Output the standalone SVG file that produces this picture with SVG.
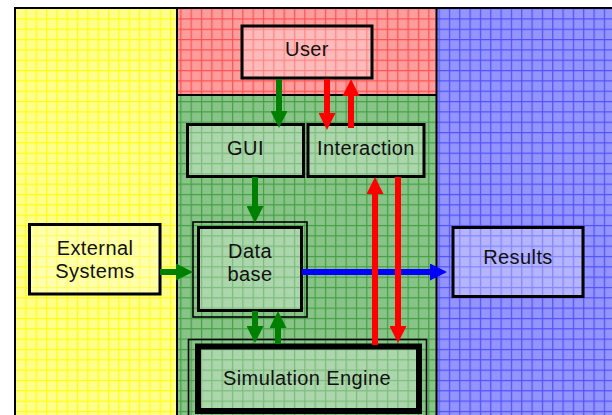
<svg xmlns="http://www.w3.org/2000/svg" width="612" height="415" viewBox="0 0 612 415">
  <style>
    .box { fill: #ffffff; fill-opacity: 0.3; stroke: #000; stroke-width: 3; }
    .thin { fill: none; stroke: #000; stroke-width: 1.6; }
    .lbl { font-family: "Liberation Sans", Arial, sans-serif; font-size: 20px; letter-spacing: 0.4px; fill: #111; text-anchor: middle; }
    .div { stroke: #000; stroke-width: 2; }
    .g { stroke: #008000; stroke-width: 6; fill: none; }
    .r { stroke: #ff0000; stroke-width: 6; fill: none; }
    .b { stroke: #0000ff; stroke-width: 6; fill: none; }
  </style>
  <defs>
    <pattern id="fillYellow" patternUnits="userSpaceOnUse" x="15" y="8" width="10.33" height="10.33">
      <rect width="10.33" height="10.33" fill="#ffff8c"/>
      <rect width="1.2" height="10.33" fill="#ffff10"/>
      <rect width="10.33" height="1.2" fill="#ffff10"/>
    </pattern>
    <pattern id="fillRed" patternUnits="userSpaceOnUse" x="15" y="8" width="10.33" height="10.33">
      <rect width="10.33" height="10.33" fill="#ff9c9c"/>
      <rect width="1.2" height="10.33" fill="#ff5252"/>
      <rect width="10.33" height="1.2" fill="#ff5252"/>
    </pattern>
    <pattern id="fillGreen" patternUnits="userSpaceOnUse" x="15" y="8" width="10.33" height="10.33">
      <rect width="10.33" height="10.33" fill="#88c488"/>
      <rect width="1.2" height="10.33" fill="#44a044"/>
      <rect width="10.33" height="1.2" fill="#44a044"/>
    </pattern>
    <pattern id="fillBlue" patternUnits="userSpaceOnUse" x="15" y="8" width="10.33" height="10.33">
      <rect width="10.33" height="10.33" fill="#9494ff"/>
      <rect width="1.2" height="10.33" fill="#5050ff"/>
      <rect width="10.33" height="1.2" fill="#5050ff"/>
    </pattern>
    <marker id="headG" markerUnits="userSpaceOnUse" markerWidth="17" markerHeight="17" refX="7" refY="8.5" orient="auto">
      <path d="M0,0 L17,8.5 L0,17 z" fill="#008000"/>
    </marker>
    <marker id="headR" markerUnits="userSpaceOnUse" markerWidth="17" markerHeight="17" refX="7" refY="8.5" orient="auto">
      <path d="M0,0 L17,8.5 L0,17 z" fill="#ff0000"/>
    </marker>
    <marker id="headB" markerUnits="userSpaceOnUse" markerWidth="17" markerHeight="17" refX="7" refY="8.5" orient="auto">
      <path d="M0,0 L17,8.5 L0,17 z" fill="#0000ff"/>
    </marker>
  </defs>

  <rect width="612" height="415" fill="#fff"/>

  <!-- swim-lane panels -->
  <g id="panels">
    <rect x="15" y="8" width="162" height="407" fill="url(#fillYellow)"/>
    <rect x="177" y="8" width="260" height="87" fill="url(#fillRed)"/>
    <rect x="177" y="95" width="260" height="320" fill="url(#fillGreen)"/>
    <rect x="437" y="8" width="175" height="407" fill="url(#fillBlue)"/>
    <line class="div" x1="15" y1="8" x2="612" y2="8" stroke="#333"/>
    <line class="div" x1="15" y1="7" x2="15" y2="415"/>
    <line class="div" x1="177" y1="7" x2="177" y2="415"/>
    <line class="div" x1="436.5" y1="7" x2="436.5" y2="415"/>
    <line class="div" x1="177" y1="95" x2="436.5" y2="95"/>
  </g>

  <g id="user">
    <rect class="box" x="242" y="26" width="130" height="52"/>
    <text class="lbl" x="307" y="56">User</text>
  </g>

  <g id="gui">
    <rect class="box" x="187.5" y="124.5" width="116" height="52"/>
    <text class="lbl" x="245.5" y="154.5">GUI</text>
  </g>

  <g id="interaction">
    <rect class="box" x="308" y="124.5" width="116" height="52"/>
    <text class="lbl" x="366" y="154.5">Interaction</text>
  </g>

  <g id="database">
    <rect class="thin" x="193" y="222" width="114" height="95"/>
    <rect class="box" x="198.5" y="227.5" width="103" height="83"/>
    <text class="lbl" x="250" y="257.5">Data</text>
    <text class="lbl" x="250" y="281">base</text>
  </g>

  <g id="external">
    <rect class="box" x="29.5" y="224.5" width="130.5" height="69.5"/>
    <text class="lbl" x="95" y="255">External</text>
    <text class="lbl" x="95" y="277.5">Systems</text>
  </g>

  <g id="results">
    <rect class="box" x="453" y="227.5" width="130" height="69"/>
    <text class="lbl" x="518" y="264">Results</text>
  </g>

  <g id="simulation">
    <rect class="thin" x="188.5" y="339.5" width="238" height="80"/>
    <rect x="198" y="346.5" width="221" height="64.5" fill="#fff" fill-opacity="0.3" stroke="#000" stroke-width="6"/>
    <text class="lbl" x="307" y="385">Simulation Engine</text>
  </g>

  <!-- connectors -->
  <g id="connectors">
    <line class="g" x1="279" y1="79" x2="279" y2="118" marker-end="url(#headG)"/>
    <line class="r" x1="327" y1="79" x2="327" y2="120" marker-end="url(#headR)"/>
    <line class="r" x1="351" y1="128" x2="351" y2="89" marker-end="url(#headR)"/>
    <line class="g" x1="255" y1="177" x2="255" y2="213" marker-end="url(#headG)"/>
    <line class="g" x1="160" y1="272" x2="183" y2="272" marker-end="url(#headG)"/>
    <line class="b" x1="302" y1="272" x2="437" y2="272" marker-end="url(#headB)"/>
    <line class="g" x1="255" y1="311" x2="255" y2="333" marker-end="url(#headG)"/>
    <line class="g" x1="278" y1="344" x2="278" y2="321" marker-end="url(#headG)"/>
    <line class="r" x1="375" y1="345" x2="375" y2="187" marker-end="url(#headR)"/>
    <line class="r" x1="398" y1="177" x2="398" y2="333" marker-end="url(#headR)"/>
  </g>
</svg>
